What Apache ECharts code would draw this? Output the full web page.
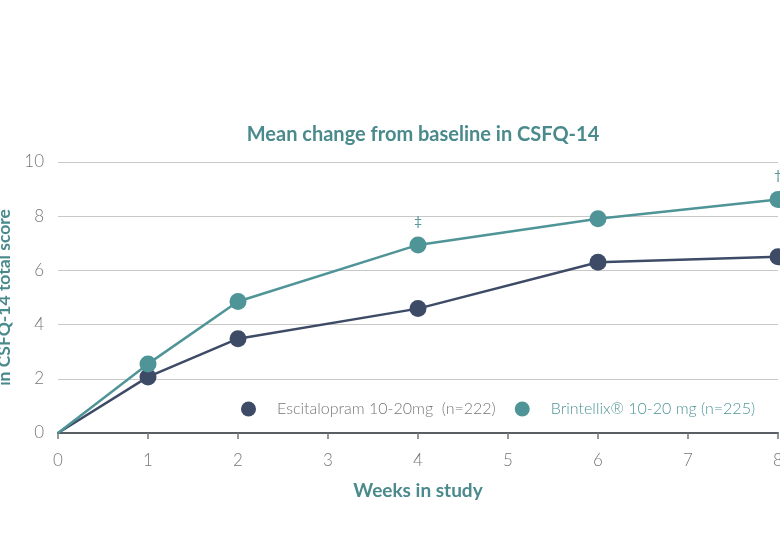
<!DOCTYPE html>
<html>
<head>
<meta charset="utf-8">
<script src="https://cdn.jsdelivr.net/npm/echarts@6/dist/echarts.min.js"></script>
<style>html,body{margin:0;padding:0;background:#fff;}#c{width:780px;height:535px;}</style>
</head>
<body>
<div id="c"></div>
<script>
const weeks = [0, 1, 2, 4, 6, 8];
const escitalopram = [0, 2.07, 3.48, 4.59, 6.3, 6.5];
const brintellix = [0, 2.55, 4.85, 6.94, 7.91, 8.62];
const brintellixNotes = ['', '', '', '‡', '', '†'];
const seriesNames = ['Escitalopram 10-20mg  (n=222)', 'Brintellix® 10-20 mg (n=225)'];
const xTicks = [0, 1, 2, 3, 4, 5, 6, 7, 8];
const yTicks = [0, 2, 4, 6, 8, 10];

const navy = '#3e4b66';
const teal = '#4f9497';
const titleTeal = '#4a8a8c';
const font = 'Lato';

function buildData(vals, notes) {
  return weeks.map((w, i) => {
    const item = { value: [w, vals[i]] };
    if (w === 0) { item.symbol = 'none'; }
    if (notes && notes[i]) {
      item.label = { show: true, formatter: notes[i], position: 'top', distance: 8,
        color: teal, fontSize: 14, fontFamily: font };
    }
    return item;
  });
}

const chart = echarts.init(document.getElementById('c'));
chart.setOption({
  backgroundColor: '#fff',
  animation: false,
  title: {
    text: 'Mean change from baseline in CSFQ-14',
    left: 418, top: 120, textAlign: 'center',
    textStyle: { color: titleTeal, fontSize: 20, fontWeight: 'bold', fontFamily: font }
  },
  grid: { left: 58, right: 2, top: 162, bottom: 102, containLabel: false, outerBoundsMode: 'none' },
  legend: {
    left: 236, top: 396,
    itemWidth: 15, itemHeight: 15, itemGap: 19,
    icon: 'circle',
    data: [
      { name: seriesNames[0], textStyle: { color: '#777' } },
      { name: seriesNames[1], textStyle: { color: teal } }
    ],
    textStyle: { fontSize: 16, fontFamily: font, fontWeight: 300, padding: [0, 0, 0, 16] }
  },
  xAxis: {
    type: 'value', min: xTicks[0], max: xTicks[xTicks.length - 1], interval: 1,
    name: 'Weeks in study', nameLocation: 'middle', nameGap: 48,
    nameTextStyle: { color: titleTeal, fontSize: 19, fontWeight: 'bold', fontFamily: font },
    axisLine: { show: true, lineStyle: { color: '#5a5f66', width: 2 } },
    axisTick: { show: true, length: 6, lineStyle: { color: '#777', width: 1.5 } },
    axisLabel: { color: '#777', fontSize: 17, fontFamily: font, fontWeight: 300, margin: 19 },
    splitLine: { show: false }
  },
  yAxis: {
    type: 'value', min: yTicks[0], max: yTicks[yTicks.length - 1], interval: 2,
    name: 'in CSFQ-14 total score', nameLocation: 'middle', nameGap: 43, nameRotate: 90,
    nameTextStyle: { color: titleTeal, fontSize: 17.5, fontWeight: 'bold', fontFamily: font },
    axisLine: { show: false }, axisTick: { show: false },
    axisLabel: { color: '#777', fontSize: 17, fontFamily: font, fontWeight: 300, margin: 14 },
    splitLine: { show: true, lineStyle: { color: '#c8c8c8', width: 1.2 } }
  },
  series: [
    {
      name: seriesNames[0], type: 'line', data: buildData(escitalopram, null),
      symbol: 'circle', symbolSize: 17, showAllSymbol: true,
      itemStyle: { color: navy },
      lineStyle: { color: navy, width: 2.5 }, z: 3
    },
    {
      name: seriesNames[1], type: 'line', data: buildData(brintellix, brintellixNotes),
      symbol: 'circle', symbolSize: 17, showAllSymbol: true,
      itemStyle: { color: teal },
      lineStyle: { color: teal, width: 2.5 }, z: 4
    }
  ]
});
</script>
</body>
</html>
